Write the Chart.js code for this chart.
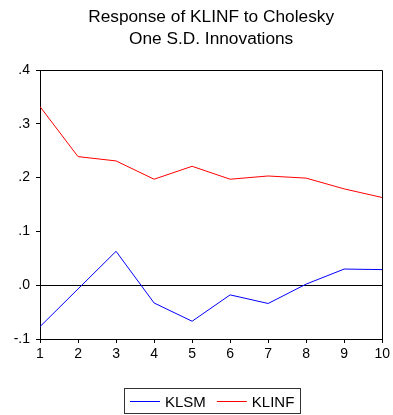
<!DOCTYPE html>
<html>
<head>
<meta charset="utf-8">
<script src="https://cdn.jsdelivr.net/npm/chart.js@4.4.1/dist/chart.umd.min.js"></script>
<style>
    html, body { margin: 0; padding: 0; background: #fff; }
</style>
</head>
<body>
<canvas id="chart" width="393" height="415"></canvas>
<script>
const titleLines = ['Response of KLINF to Cholesky', 'One S.D. Innovations'];
const steps = [1, 2, 3, 4, 5, 6, 7, 8, 9, 10];
const klsm = [-0.077, -0.007, 0.063, -0.033, -0.067, -0.018, -0.034, 0.002, 0.030, 0.029];
const klinf = [0.332, 0.239, 0.231, 0.197, 0.221, 0.197, 0.203, 0.199, 0.179, 0.163];

const FONT = '"Liberation Sans", Arial, sans-serif';

function toPoints(vals) {
    return steps.map((s, i) => ({ x: s, y: vals[i] }));
}

// eviews style labels: .4, .0, -.1
function shortNum(v) {
    return v.toFixed(1).replace('0.', '.');
}

// top and right sides of the frame
const framePlugin = {
    id: 'frame',
    afterDraw(chart) {
        const a = chart.chartArea;
        const c = chart.ctx;
        c.save();
        c.strokeStyle = '#000';
        c.lineWidth = 1;
        c.beginPath();
        c.moveTo(Math.round(a.left) + 0.5, Math.round(a.top) + 0.5);
        c.lineTo(Math.round(a.right) + 0.5, Math.round(a.top) + 0.5);
        c.lineTo(Math.round(a.right) + 0.5, Math.round(a.bottom) + 0.5);
        c.stroke();
        c.restore();
    }
};

// boxed legend under the x axis, like eviews draws it
const boxLegendPlugin = {
    id: 'boxLegend',
    afterDraw(chart) {
        const c = chart.ctx;
        const sets = chart.data.datasets;
        c.save();
        c.font = '15px ' + FONT;
        c.textBaseline = 'alphabetic';
        const pad = 6, lineW = 30, gap = 5, between = 11;
        let w = pad * 2;
        sets.forEach((ds, i) => {
            w += lineW + gap + c.measureText(ds.label).width + (i < sets.length - 1 ? between : 0);
        });
        const left = 124.5, top = 388.5, h = 25;
        c.strokeStyle = '#333';
        c.lineWidth = 1;
        c.strokeRect(left, top, Math.round(w), h);
        let x = left + pad - 0.5;
        sets.forEach(ds => {
            c.strokeStyle = ds.borderColor;
            c.beginPath();
            c.moveTo(x, top + 13);
            c.lineTo(x + lineW, top + 13);
            c.stroke();
            x += lineW + gap;
            c.fillStyle = '#000';
            c.fillText(ds.label, x, top + 18);
            x += c.measureText(ds.label).width + between;
        });
        c.restore();
    }
};

new Chart(document.getElementById('chart'), {
    type: 'line',
    data: {
        datasets: [
            { label: 'KLSM', data: toPoints(klsm), borderColor: '#0000ff', borderWidth: 1, pointRadius: 0, tension: 0 },
            { label: 'KLINF', data: toPoints(klinf), borderColor: '#ff0000', borderWidth: 1, pointRadius: 0, tension: 0 }
        ]
    },
    options: {
        responsive: false,
        animation: false,
        layout: { padding: { left: 0, right: 9, top: 0, bottom: 46 } },
        scales: {
            x: {
                type: 'linear', min: 1, max: 10,
                afterFit: s => { s.height = 30; },
                ticks: { stepSize: 1, color: '#000', padding: 3, maxRotation: 0, font: { family: FONT, size: 14 } },
                grid: { drawOnChartArea: false, tickLength: 4, tickColor: '#000' },
                border: { display: true, color: '#000', width: 1 }
            },
            y: {
                min: -0.1, max: 0.4,
                afterFit: s => { s.width = 40; },
                ticks: { stepSize: 0.1, color: '#000', padding: 6, callback: v => shortNum(v), font: { family: FONT, size: 14 } },
                grid: {
                    tickLength: 4, tickColor: '#000',
                    color: ctx => (ctx.tick && Math.abs(ctx.tick.value) < 1e-9) ? '#000' : 'rgba(0,0,0,0)'
                },
                border: { display: true, color: '#000', width: 1 }
            }
        },
        plugins: {
            legend: { display: false },
            tooltip: { enabled: false },
            title: {
                display: true, text: titleLines, color: '#000', fullSize: false,
                font: { family: FONT, size: 17.3, weight: 'normal', lineHeight: '22px' },
                padding: { top: 6, bottom: 20 }
            }
        }
    },
    plugins: [framePlugin, boxLegendPlugin]
});
</script>
</body>
</html>
